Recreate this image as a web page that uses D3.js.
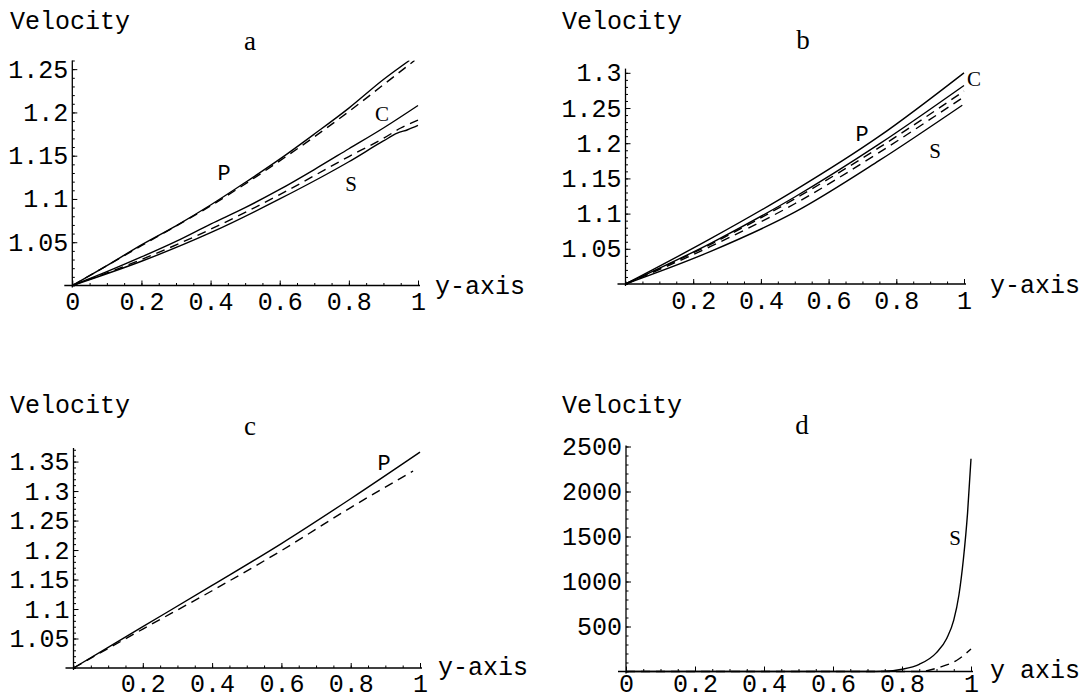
<!DOCTYPE html>
<html>
<head>
<meta charset="utf-8">
<script src="https://cdnjs.cloudflare.com/ajax/libs/d3/7.8.5/d3.min.js"></script>
<style>
  body { margin: 0; background: #fff; }
</style>
</head>
<body>
<div id="chart"></div>
<script>
var svgWidth = 1089;
var svgHeight = 700;

var monoFont = "'Liberation Mono', 'DejaVu Sans Mono', monospace";
var serifFont = "'Liberation Serif', 'DejaVu Serif', serif";

// ---- data: [y-position, velocity] ----
// panel a
var aPSolid = [[0, 1], [0.1, 1.023], [0.2, 1.047], [0.3, 1.069], [0.4, 1.093], [0.5, 1.119], [0.6, 1.146], [0.7, 1.175], [0.8, 1.205], [0.9, 1.238], [0.975, 1.26]];
var aPDashed = [[0, 1], [0.2, 1.046], [0.4, 1.092], [0.6, 1.144], [0.8, 1.201], [0.9, 1.232], [0.99, 1.26]];
var aCSolid = [[0, 1], [0.1, 1.016], [0.2, 1.033], [0.3, 1.051], [0.4, 1.071], [0.5, 1.09], [0.6, 1.111], [0.7, 1.134], [0.8, 1.158], [0.9, 1.182], [1, 1.208]];
var aSDashed = [[0, 1], [0.2, 1.030], [0.4, 1.065], [0.6, 1.105], [0.8, 1.149], [0.9, 1.17], [0.95, 1.182], [1, 1.191]];
var aSSolid = [[0, 1], [0.2, 1.028], [0.4, 1.061], [0.6, 1.1], [0.8, 1.143], [0.9, 1.167], [0.94, 1.176], [0.97, 1.18], [1, 1.185]];

// panel b
var bPSolid = [[0, 1], [0.25, 1.064], [0.5, 1.133], [0.75, 1.21], [1, 1.30]];
var bCSolid = [[0, 1], [0.25, 1.0575], [0.5, 1.1236], [0.75, 1.199], [1, 1.282]];
var bDashed1 = [[0, 1], [0.25, 1.056], [0.5, 1.121], [0.75, 1.194], [1, 1.274]];
var bDashed2 = [[0, 1], [0.25, 1.053], [0.5, 1.114], [0.75, 1.187], [1, 1.266]];
var bSSolid = [[0, 1], [0.25, 1.046], [0.5, 1.102], [0.75, 1.1755], [0.995, 1.254]];

// panel c
var cPSolid = [[0, 1], [0.2, 1.07], [0.4, 1.14], [0.6, 1.211], [0.8, 1.287], [1, 1.366]];
var cPDashed = [[0, 1], [0.2, 1.066], [0.4, 1.131], [0.6, 1.199], [0.8, 1.272], [0.98, 1.334]];

// panel d
var dSSolid = [[0, 0], [0.7, 0], [0.75, 2], [0.8, 25], [0.85, 80], [0.9, 210], [0.93, 370], [0.95, 570], [0.965, 850], [0.978, 1250], [0.99, 1760], [1, 2363]];
var dSDashed = [[0, 0], [0.85, 0], [0.91, 48], [0.958, 122], [1, 250]];

// tick values
var xTicksZero = [0, 0.2, 0.4, 0.6, 0.8, 1];
var xTicksNoZero = [0.2, 0.4, 0.6, 0.8, 1];
var aYTicks = [1.05, 1.1, 1.15, 1.2, 1.25];
var bYTicks = [1.05, 1.1, 1.15, 1.2, 1.25, 1.3];
var cYTicks = [1.05, 1.1, 1.15, 1.2, 1.25, 1.3, 1.35];
var dYTicks = [500, 1000, 1500, 2000, 2500];

var svg = d3.select("#chart")
  .append("svg")
  .attr("width", svgWidth)
  .attr("height", svgHeight);

var panels = [
  {
    name: "a", xRange: [72.3, 418], yDomain: [1, 1.26], yRange: [285.5, 60.5],
    xTicks: xTicksZero, yTicks: aYTicks, yMinorStep: 0.01, xPad: 7,
    series: [[aPSolid, false], [aPDashed, true], [aCSolid, false], [aSDashed, true], [aSSolid, false]],
    velocity: [10, 29], letter: [250, 50], axisLabel: ["y-axis", 435, 294],
    labels: [["P", 224, 172, "mono"], ["C", 382, 114, "serif"], ["S", 351, 184, "serif"]]
  },
  {
    name: "b", xRange: [625.5, 964], yDomain: [1, 1.306], yRange: [284, 68.6],
    xTicks: xTicksNoZero, yTicks: bYTicks, yMinorStep: 0.01, xPad: 7,
    series: [[bPSolid, false], [bCSolid, false], [bDashed1, true], [bDashed2, true], [bSSolid, false]],
    velocity: [562, 29], letter: [803, 49], axisLabel: ["y-axis", 990, 293],
    labels: [["P", 862, 133, "mono"], ["C", 974, 79, "serif"], ["S", 935, 151, "serif"]]
  },
  {
    name: "c", xRange: [73.5, 420], yDomain: [1, 1.373], yRange: [668, 448],
    xTicks: xTicksNoZero, yTicks: cYTicks, yMinorStep: 0.01, xPad: 6,
    series: [[cPSolid, false], [cPDashed, true]],
    velocity: [10, 413], letter: [250, 435], axisLabel: ["y-axis", 438, 675],
    labels: [["P", 384, 462, "mono"]]
  },
  {
    name: "d", xRange: [626, 971], yDomain: [0, 2510], yRange: [671.5, 445.6],
    xTicks: xTicksZero, yTicks: dYTicks, yMinorStep: 100, xPad: 3,
    series: [[dSSolid, false], [dSDashed, true]],
    velocity: [562, 413], letter: [802, 434], axisLabel: ["y axis", 990, 678],
    labels: [["S", 955, 538, "serif"]]
  }
];

function fmt(d) {
  return String(d);
}

function drawPanel(p) {
  var x = d3.scaleLinear().domain([0, 1]).range(p.xRange);
  var y = d3.scaleLinear().domain(p.yDomain).range(p.yRange);
  var y0 = y(p.yDomain[0]);
  var yTop = y(p.yDomain[1]);

  var g = svg.append("g").attr("class", "panel-" + p.name);

  // clip so curves stay in the plot range
  var clipId = "clip-" + p.name;
  svg.append("clipPath").attr("id", clipId)
    .append("rect")
    .attr("x", x(0) - 10)
    .attr("y", yTop)
    .attr("width", x(1) - x(0) + 20)
    .attr("height", y0 - yTop + 10);

  // curves
  var line = d3.line()
    .x(d => x(d[0]))
    .y(d => y(d[1]))
    .curve(d3.curveMonotoneX);

  g.append("g").attr("clip-path", `url(#${clipId})`)
    .selectAll("path")
    .data(p.series)
    .enter()
    .append("path")
    .attr("d", d => line(d[0]))
    .attr("fill", "none")
    .attr("stroke", "#000")
    .attr("stroke-width", 1.4)
    .attr("stroke-dasharray", d => d[1] ? "9,6" : null);

  // axis lines
  g.append("line")
    .attr("x1", x(0) - 8).attr("x2", x(1) + 2)
    .attr("y1", y0).attr("y2", y0)
    .attr("stroke", "#000").attr("stroke-width", 1.3);
  g.append("line")
    .attr("x1", x(0)).attr("x2", x(0))
    .attr("y1", yTop).attr("y2", y0 + 2)
    .attr("stroke", "#000").attr("stroke-width", 1.3);

  // major + minor ticks (Mathematica style: pointing inward)
  var xMinor = d3.range(0, 1.0001, 0.05);
  var yMinor = d3.range(p.yDomain[0], p.yDomain[1] + 1e-9, p.yMinorStep);

  var bottomMinor = d3.axisBottom(x).tickValues(xMinor).tickSize(-2.5).tickFormat("");
  var leftMinor = d3.axisLeft(y).tickValues(yMinor).tickSize(-2.5).tickFormat("");

  g.append("g").attr("transform", `translate(0, ${y0})`).call(bottomMinor)
    .call(s => s.select(".domain").remove());
  g.append("g").attr("transform", `translate(${x(0)}, 0)`).call(leftMinor)
    .call(s => s.select(".domain").remove());

  var bottomAxis = d3.axisBottom(x).tickValues(p.xTicks).tickSize(-5).tickPadding(p.xPad).tickFormat(fmt);
  var leftAxis = d3.axisLeft(y).tickValues(p.yTicks).tickSize(-5).tickPadding(4).tickFormat(fmt);

  g.append("g").attr("transform", `translate(0, ${y0})`).call(bottomAxis)
    .call(s => s.select(".domain").remove())
    .attr("font-family", monoFont).attr("font-size", 25);
  g.append("g").attr("transform", `translate(${x(0)}, 0)`).call(leftAxis)
    .call(s => s.select(".domain").remove())
    .attr("font-family", monoFont).attr("font-size", 25);

  // titles
  g.append("text")
    .attr("x", p.velocity[0]).attr("y", p.velocity[1])
    .attr("font-family", monoFont).attr("font-size", 25)
    .text("Velocity");

  g.append("text")
    .attr("x", p.letter[0]).attr("y", p.letter[1])
    .attr("text-anchor", "middle")
    .attr("font-family", serifFont).attr("font-size", 27)
    .text(p.name);

  g.append("text")
    .attr("x", p.axisLabel[1]).attr("y", p.axisLabel[2])
    .attr("font-family", monoFont).attr("font-size", 25)
    .text(p.axisLabel[0]);

  // curve labels
  g.selectAll(".curve-label")
    .data(p.labels)
    .enter()
    .append("text")
    .attr("class", "curve-label")
    .attr("x", d => d[1])
    .attr("y", d => d[2])
    .attr("dy", "0.35em")
    .attr("text-anchor", "middle")
    .attr("font-family", d => d[3] === "mono" ? monoFont : serifFont)
    .attr("font-size", d => d[3] === "mono" ? 22 : 21)
    .text(d => d[0]);
}

panels.forEach(drawPanel);
</script>
</body>
</html>
